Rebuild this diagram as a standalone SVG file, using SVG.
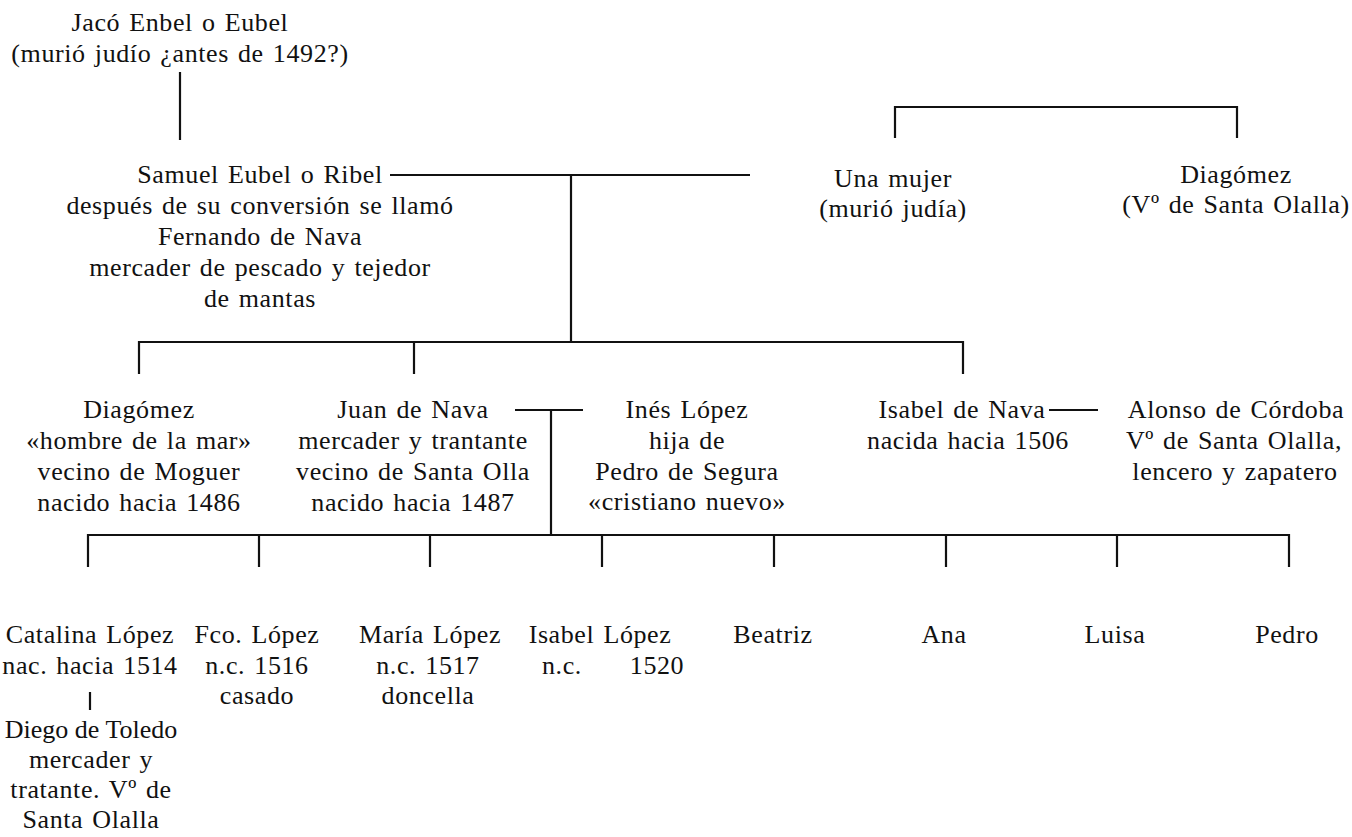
<svg xmlns="http://www.w3.org/2000/svg" width="1352" height="837" viewBox="0 0 1352 837">
<style>
  text { font-family: "Liberation Serif", "Times New Roman", serif; font-size: 26px; fill: #111; text-anchor: middle; letter-spacing: 0.6px; word-spacing: 2px; }
  .tight { letter-spacing: 0px; word-spacing: 0px; }
  .ln { stroke: #111; stroke-width: 2.2; fill: none; stroke-linecap: butt; }
</style>
<rect width="1352" height="837" fill="#fff"/>

<g id="connectors">
  <path class="ln" d="M180,72 V140"/>
  <path class="ln" d="M390,175 H750"/>
  <path class="ln" d="M571,175 V342"/>
  <path class="ln" d="M895,138 V107 H1237 V138"/>
  <path class="ln" d="M139,374 V342 H963 V374"/>
  <path class="ln" d="M414,342 V374"/>
  <path class="ln" d="M515,410 H583"/>
  <path class="ln" d="M551,410 V535"/>
  <path class="ln" d="M1049,410 H1098"/>
  <path class="ln" d="M88,567 V535 H1289 V567"/>
  <path class="ln" d="M259,535 V567 M430,535 V567 M602,535 V567 M774,535 V567 M946,535 V567 M1117,535 V567"/>
  <path class="ln" d="M90,692 V710"/>
</g>

<g id="jaco">
  <text x="180" y="31">Jacó Enbel o Eubel</text>
  <text x="180" y="62">(murió judío ¿antes de 1492?)</text>
</g>

<g id="samuel">
  <text x="260" y="183">Samuel Eubel o Ribel</text>
  <text x="260" y="214">después de su conversión se llamó</text>
  <text x="260" y="245">Fernando de Nava</text>
  <text x="260" y="276">mercader de pescado y tejedor</text>
  <text x="260" y="307">de mantas</text>
</g>

<g id="una-mujer">
  <text x="893" y="187">Una mujer</text>
  <text x="893" y="217">(murió judía)</text>
</g>

<g id="diagomez-padre">
  <text x="1236" y="183">Diagómez</text>
  <text x="1236" y="213">(Vº de Santa Olalla)</text>
</g>

<g id="diagomez">
  <text x="139" y="418">Diagómez</text>
  <text x="139" y="449">«hombre de la mar»</text>
  <text x="139" y="480">vecino de Moguer</text>
  <text x="139" y="511">nacido hacia 1486</text>
</g>

<g id="juan">
  <text x="413" y="418">Juan de Nava</text>
  <text x="413" y="449">mercader y trantante</text>
  <text x="413" y="480">vecino de Santa Olla</text>
  <text x="413" y="511">nacido hacia 1487</text>
</g>

<g id="ines">
  <text x="687" y="418">Inés López</text>
  <text x="687" y="449">hija de</text>
  <text x="687" y="480">Pedro de Segura</text>
  <text x="687" y="510">«cristiano nuevo»</text>
</g>

<g id="isabel-nava">
  <text x="962" y="418">Isabel de Nava</text>
  <text x="968" y="449">nacida hacia 1506</text>
</g>

<g id="alonso">
  <text x="1236" y="418">Alonso de Córdoba</text>
  <text x="1234" y="449">Vº de Santa Olalla,</text>
  <text x="1235" y="480">lencero y zapatero</text>
</g>

<g id="catalina">
  <text x="90" y="643">Catalina López</text>
  <text x="90" y="674">nac. hacia 1514</text>
  <text class="tight" x="91" y="738">Diego de Toledo</text>
  <text x="91" y="768">mercader y</text>
  <text x="91" y="798">tratante. Vº de</text>
  <text x="91" y="828">Santa Olalla</text>
</g>

<g id="francisco">
  <text x="257" y="643">Fco. López</text>
  <text x="257" y="674">n.c. 1516</text>
  <text x="257" y="704">casado</text>
</g>

<g id="maria">
  <text x="430" y="643">María López</text>
  <text x="428" y="674">n.c. 1517</text>
  <text x="428" y="704">doncella</text>
</g>

<g id="isabel-lopez">
  <text x="600" y="643">Isabel López</text>
  <text y="674"><tspan x="562">n.c.</tspan><tspan x="657">1520</tspan></text>
</g>

<g id="beatriz"><text x="773" y="643">Beatriz</text></g>
<g id="ana"><text x="944" y="643">Ana</text></g>
<g id="luisa"><text x="1115" y="643">Luisa</text></g>
<g id="pedro"><text x="1287" y="643">Pedro</text></g>
</svg>
